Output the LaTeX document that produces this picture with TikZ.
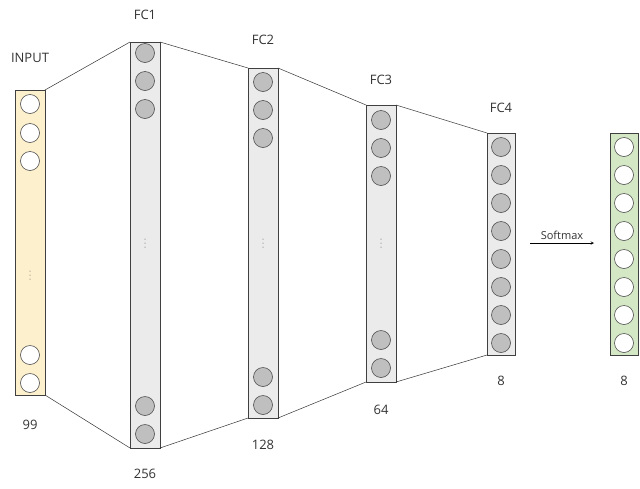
\documentclass[tikz,border=0pt]{standalone}
\usepackage{fontspec}
\setmainfont{Open Sans}
\definecolor{inyel}{RGB}{253,240,205}
\definecolor{outgrn}{RGB}{213,232,198}
\begin{document}
\begin{tikzpicture}[x=1pt,y=-1pt,
  col/.style={draw=black!75,line width=0.7pt},
  gn/.style={circle,draw=black!70,fill=black!25,minimum size=19pt,inner sep=0pt,line width=0.6pt},
  wn/.style={circle,draw=black!70,fill=white,minimum size=19pt,inner sep=0pt,line width=0.6pt},
  lbl/.style={font=\fontsize{13}{15}\selectfont,text=black!80,inner sep=1pt},
  vdot/.style={fill=black!70},
  link/.style={draw=black!80,line width=0.5pt}]
\useasboundingbox (0,0) rectangle (640,488);
% columns
\path[col,fill=inyel] (15,90) rectangle (45,395);
\coordinate (i1) at (45,90); \coordinate (i2) at (45,395);
\path[col,fill=black!8] (130,42) rectangle (160,448);
\coordinate (a1) at (130,42); \coordinate (a2) at (130,448);
\coordinate (a3) at (160,42); \coordinate (a4) at (160,448);
\path[col,fill=black!8] (248,68) rectangle (278,418);
\coordinate (b1) at (248,68); \coordinate (b2) at (248,418);
\coordinate (b3) at (278,68); \coordinate (b4) at (278,418);
\path[col,fill=black!8] (366,105) rectangle (396,382);
\coordinate (c1) at (366,105); \coordinate (c2) at (366,382);
\coordinate (c3) at (396,105); \coordinate (c4) at (396,382);
\path[col,fill=black!8] (487,133) rectangle (515,355);
\coordinate (d1) at (487,133); \coordinate (d2) at (487,355);
\path[col,fill=outgrn] (610,133) rectangle (638,355);
% links
\draw[link] (i1) -- (a1); \draw[link] (i2) -- (a2);
\draw[link] (a3) -- (b1); \draw[link] (a4) -- (b2);
\draw[link] (b3) -- (c1); \draw[link] (b4) -- (c2);
\draw[link] (c3) -- (d1); \draw[link] (c4) -- (d2);
% nodes
\foreach \y [count=\k] in {104,133,161,355,383} \node[wn] (in\k) at (30,\y) {};
\foreach \y [count=\k] in {53,81,109,406,434} \node[gn] (f1\k) at (145,\y) {};
\foreach \y [count=\k] in {82,110,138,377,405} \node[gn] (f2\k) at (263,\y) {};
\foreach \y [count=\k] in {120,148,176,340,368} \node[gn] (f3\k) at (381,\y) {};
\foreach \k in {0,...,7} \node[gn] (f4\k) at (501,147+\k*28) {};
\foreach \k in {0,...,7} \node[wn] (o\k) at (624,147+\k*28) {};
% vertical dots
\foreach \x/\y in {30/275,145/243,263/243,381/243}
  \foreach \d in {-4,0,4} \fill[vdot] (\x,\y+\d) circle (0.5);
% labels
\node[lbl] (tin) at (30,58) {INPUT};
\node[lbl] (t1) at (145,15) {FC1};
\node[lbl] (t2) at (263,40) {FC2};
\node[lbl] (t3) at (381,80) {FC3};
\node[lbl] (t4) at (501,108) {FC4};
\node[lbl] (n0) at (30,425) {99};
\node[lbl] (n1) at (145,474) {256};
\node[lbl] (n2) at (263,445) {128};
\node[lbl] (n3) at (381,410) {64};
\node[lbl] (n4) at (501,381) {8};
\node[lbl] (n5) at (624,381) {8};
% softmax
\coordinate (s1) at (530,243); \coordinate (s2) at (594,243);
\draw[->,>=stealth,line width=0.5pt] (s1) -- (s2) node[midway,above=2pt,lbl,font=\fontsize{11}{13}\selectfont] (sm) {Softmax};
\end{tikzpicture}
\end{document}
